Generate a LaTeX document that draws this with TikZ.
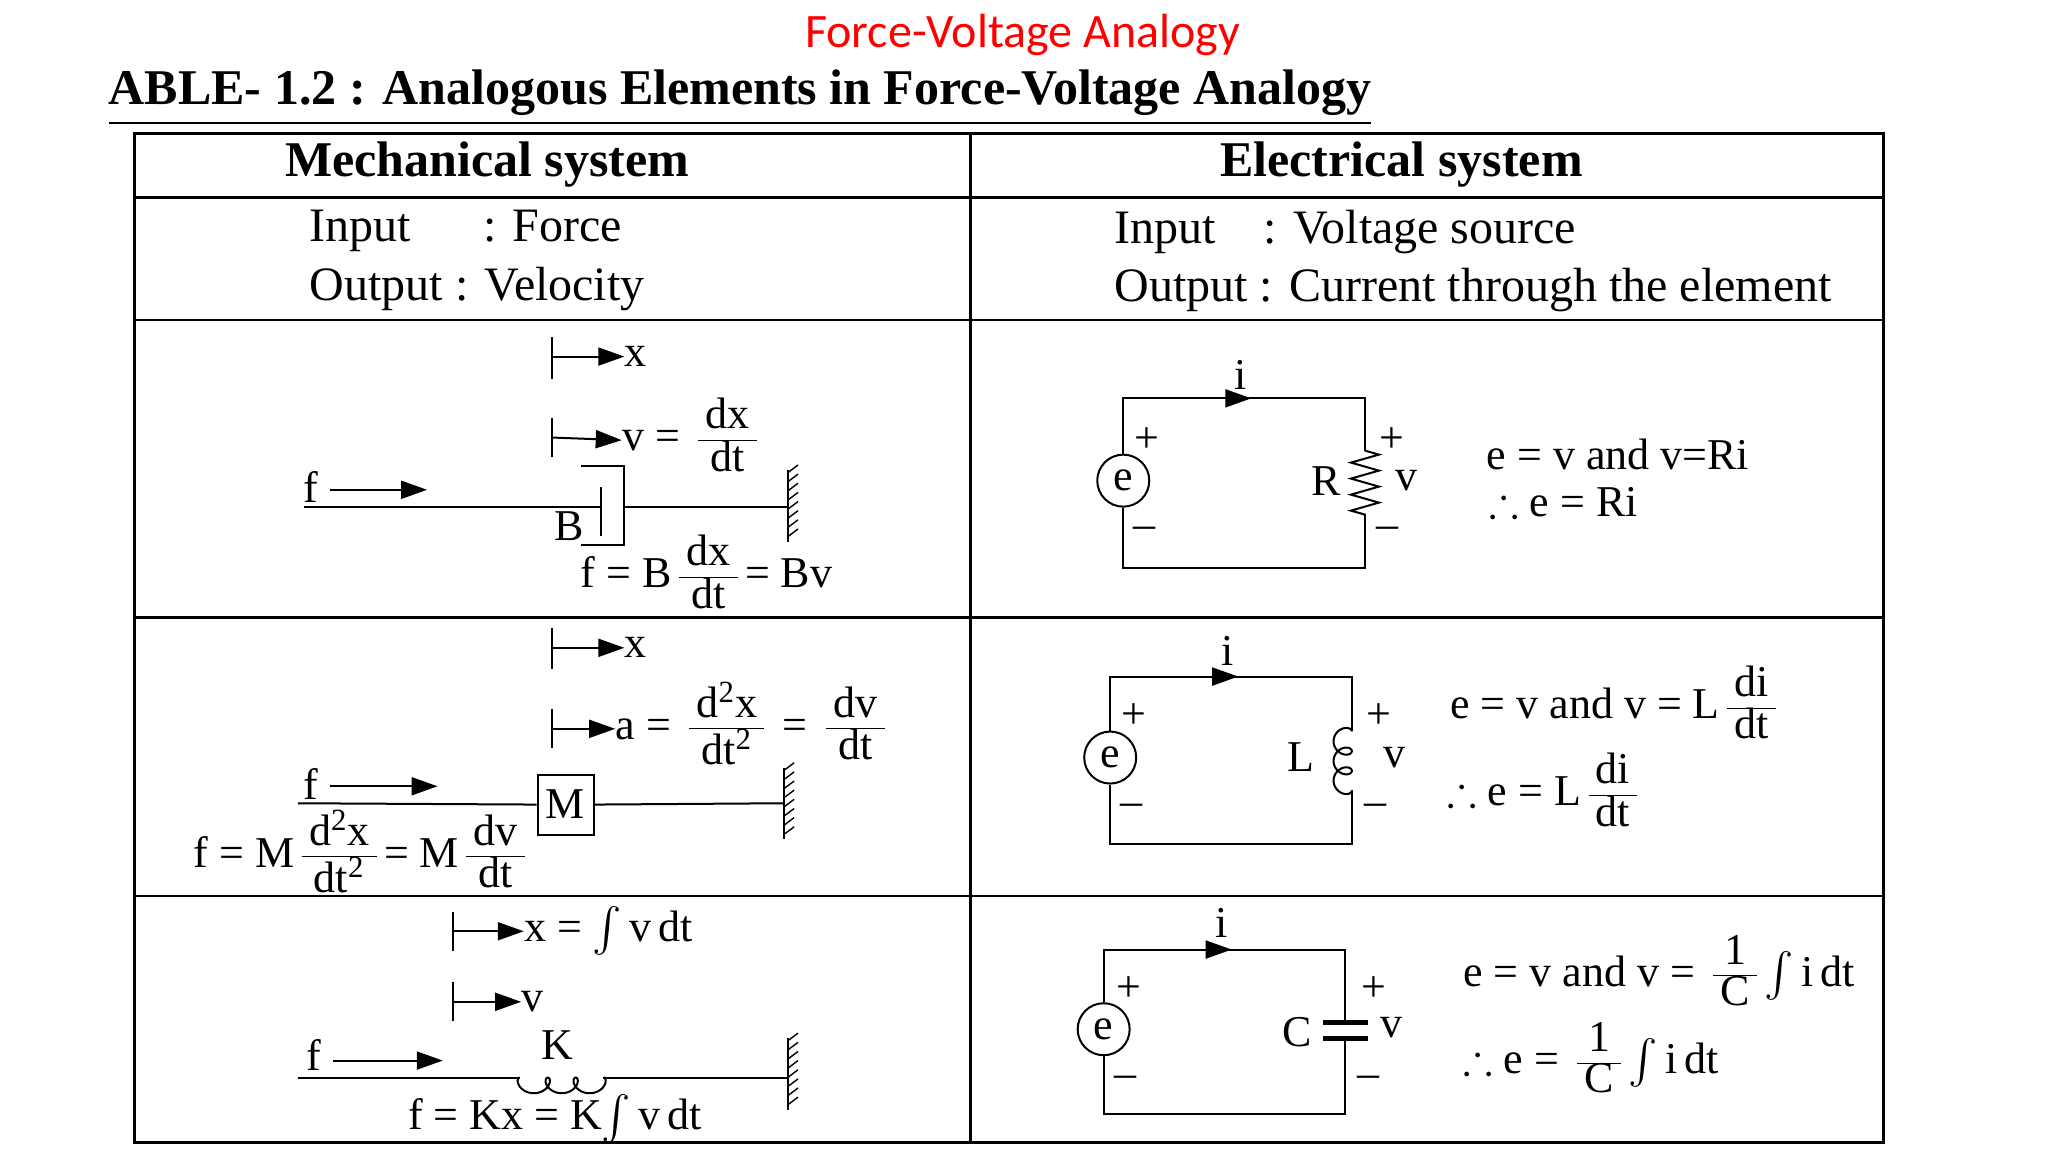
\documentclass[tikz,border=0pt]{standalone}
\usepackage{amsmath,amssymb}
\usepackage{fontspec}
\setmainfont{Liberation Serif}
\newfontfamily\titlefont{Carlito}
\usetikzlibrary{arrows.meta,decorations.pathmorphing}
\newcommand\fr[2]{\,$\vcenter{\hbox{\renewcommand\arraystretch{0.78}\begin{tabular}{@{\,}c@{\,}}#1\\\hline #2\end{tabular}}}$\,}
\newcommand\sq{\textsuperscript{2}}
\newcommand\intg{$\int$}
\begin{document}
\begin{tikzpicture}[x=0.653pt,y=-0.653pt,
  io/.style={inner sep=0pt,font=\fontsize{24}{26}\selectfont},
  txt/.style={inner sep=0pt,font=\fontsize{22}{24}\selectfont},
  hd/.style={inner sep=0pt,font=\fontsize{25}{27}\selectfont\bfseries},
  grid/.style={line width=1.4pt},
  wire/.style={line width=1pt},
  arr/.style={line width=1pt,-{Triangle[length=13pt,width=9pt]}},
  tick/.style={line width=1pt}]
\useasboundingbox (0,0) rectangle (1568,882);
\node[text=red,font=\titlefont\fontsize{24}{26}\selectfont] (title) at (783,27) {Force-Voltage Analogy};
\node[anchor=west,inner sep=0pt,font=\fontsize{25}{27}\selectfont\bfseries] (cap) at (83,75) {\underline{ABLE- 1.2 : Analogous Elements in Force-Voltage Analogy}};
% table
\draw[grid] (103,102) rectangle (1442,875);
\draw[grid] (103,151) -- (1442,151) (103,245) -- (1442,245) (103,473) -- (1442,473) (103,686) -- (1442,686);
\draw[grid] (743,102) -- (743,875);
\node[hd] (h1) at (373,126) {Mechanical system};
\node[hd] (h2) at (1073,126) {Electrical system};
\node[io,anchor=west] (i1) at (237,177) {Input\hspace{1.5em}: Force};
\node[io,anchor=west] (o1) at (237,221) {Output : Velocity};
\node[io,anchor=west] (i2) at (853,178) {Input\hspace{1em}: Voltage source};
\node[io,anchor=west] (o2) at (853,222) {Output : Current through the element};
% ---- row 1 mech
\coordinate (t1) at (423,273); \draw[tick] (423,258) -- (423,290);
\node[txt,anchor=west] (x1) at (478,273) {x};
\draw[arr] (t1) -- (x1.west);
\coordinate (t2) at (423,335); \draw[tick] (423,320) -- (423,350);
\node[txt,anchor=west] (v1) at (476,337) {v = \fr{dx}{dt}};
\draw[arr] (t2) -- (v1.west);
\node[txt] (f1) at (238,373) {f};
\coordinate (fa1) at (253,375); \coordinate (fb1) at (327,375);
\draw[arr] (fa1) -- (fb1);
\coordinate (l1) at (233,388); \coordinate (p1) at (460,388);
\draw[wire] (l1) -- (p1); \draw[wire] (460,373) -- (460,410);
\draw[wire] (445,357) -- (478,357) -- (478,417) -- (445,417);
\coordinate (w1) at (603,388);
\draw[wire] (478,388) -- (w1);
\draw[wire] (603,360) -- (603,415);
\foreach \y in {362,369,...,412} \draw[line width=0.7pt] (603,\y) -- (611,\y-6);
\node[txt] (B1) at (436,403) {B};
\node[txt] (e1) at (541,442) {f = B\fr{dx}{dt}= Bv};
% ---- row 2 mech
\draw[tick] (423,481) -- (423,512);
\coordinate (t3) at (423,496);
\node[txt,anchor=west] (x2) at (478,496) {x};
\draw[arr] (t3) -- (x2.west);
\draw[tick] (423,543) -- (423,573);
\coordinate (t4) at (423,558);
\node[txt,anchor=west] (a2) at (471,558) {a = \fr{d\sq x}{dt\sq} = \fr{dv}{dt}};
\draw[arr] (t4) -- (a2.west);
\node[txt] (f2) at (238,600) {f};
\draw[arr] (253,602) -- (335,602);
\node[draw,line width=1pt,minimum width=28pt,minimum height=30pt,inner sep=0pt,font=\fontsize{22}{24}\selectfont] (M) at (433,616) {M};
\draw[wire] (228,615) -- (M.west);
\draw[wire] (M.east) -- (600,615);
\draw[wire] (600,588) -- (600,642);
\foreach \y in {590,597,...,640} \draw[line width=0.7pt] (600,\y) -- (608,\y-6);
\node[txt] (e2) at (278,656) {f = M\fr{d\sq x}{dt\sq}= M\fr{dv}{dt}};
% ---- row 3 mech
\draw[tick] (347,698) -- (347,728);
\coordinate (t5) at (347,713);
\node[txt,anchor=west] (x3) at (401,713) {x = \intg\,v\,dt};
\draw[arr] (t5) -- (x3.west);
\draw[tick] (347,752) -- (347,782);
\coordinate (t6) at (347,767);
\node[txt,anchor=west] (v3) at (399,767) {v};
\draw[arr] (t6) -- (v3.west);
\node[txt] (f3) at (240,808) {f};
\draw[arr] (255,812) -- (339,812);
\coordinate (k1) at (398,825); \coordinate (k2) at (462,825);
\draw[wire] (228,825) -- (k1);
\draw[wire] plot[domain=0:18.85,samples=120,smooth] ({398+3.4*\x-6*sin(\x r)},{831-6*cos(\x r)});
\draw[wire] (k2) -- (603,825);
\draw[wire] (603,795) -- (603,850);
\foreach \y in {797,804,...,847} \draw[line width=0.7pt] (603,\y) -- (611,\y-6);
\node[txt] (K) at (427,800) {K};
\node[txt] (e3) at (425,857) {f = Kx = K\intg\,v\,dt};
% ---- row 1 elec
\node[draw,circle,line width=1pt,minimum size=26pt,inner sep=0pt,txt] (s1) at (860,368) {e};
\draw[wire] (s1.north) -- (860,305) -- (1045,305) -- (1045,345);
\draw[wire,decorate,decoration={zigzag,segment length=8pt,amplitude=7pt}] (1045,345) -- (1045,395);
\draw[wire] (1045,395) -- (1045,435) -- (860,435) -- (s1.south);
\draw[arr] (900,305) -- (958,305);
\node[txt] (i1n) at (950,287) {i};
\node[txt] at (878,337) {+}; \node[txt] at (876,408) {--};
\node[txt] at (1066,337) {+}; \node[txt] at (1062,408) {--};
\node[txt] (R) at (1015,368) {R}; \node[txt] at (1077,368) {v};
\node[txt,anchor=west] (q1) at (1138,348) {e = v and v=Ri};
\node[txt,anchor=west] (q2) at (1140,384) {$\therefore$ e = Ri};
% ---- row 2 elec
\node[draw,circle,line width=1pt,minimum size=26pt,inner sep=0pt,txt] (s2) at (850,580) {e};
\draw[wire] (s2.north) -- (850,518) -- (1035,518) -- (1035,560);
\draw[wire] plot[domain=0:18.85,samples=120,smooth] ({1028+7*cos(\x r)},{560+2.4*\x-6*sin(\x r)});
\draw[wire] (1035,605) -- (1035,646) -- (850,646) -- (s2.south);
\draw[arr] (890,518) -- (948,518);
\node[txt] (i2n) at (940,498) {i};
\node[txt] at (868,548) {+}; \node[txt] at (866,620) {--};
\node[txt] at (1056,548) {+}; \node[txt] at (1053,620) {--};
\node[txt] (L) at (996,580) {L}; \node[txt] at (1068,580) {v};
\node[txt,anchor=west] (q3) at (1110,542) {e = v and v = L\fr{di}{dt}};
\node[txt,anchor=west] (q4) at (1108,609) {$\therefore$ e = L\fr{di}{dt}};
% ---- row 3 elec
\node[draw,circle,line width=1pt,minimum size=26pt,inner sep=0pt,txt] (s3) at (845,788) {e};
\draw[wire] (s3.north) -- (845,727) -- (1030,727) -- (1030,783);
\draw[line width=2.2pt] (1013,783) -- (1047,783) (1013,795) -- (1047,795);
\draw[wire] (1030,795) -- (1030,853) -- (845,853) -- (s3.south);
\draw[arr] (885,727) -- (943,727);
\node[txt] (i3n) at (935,707) {i};
\node[txt] at (864,757) {+}; \node[txt] at (862,828) {--};
\node[txt] at (1052,757) {+}; \node[txt] at (1048,828) {--};
\node[txt] (C) at (993,790) {C}; \node[txt] at (1065,787) {v};
\node[txt,anchor=west] (q5) at (1120,747) {e = v and v = \fr{1}{C}\intg\,i\,dt};
\node[txt,anchor=west] (q6) at (1120,814) {$\therefore$ e = \fr{1}{C}\intg\,i\,dt};
\end{tikzpicture}
\end{document}
